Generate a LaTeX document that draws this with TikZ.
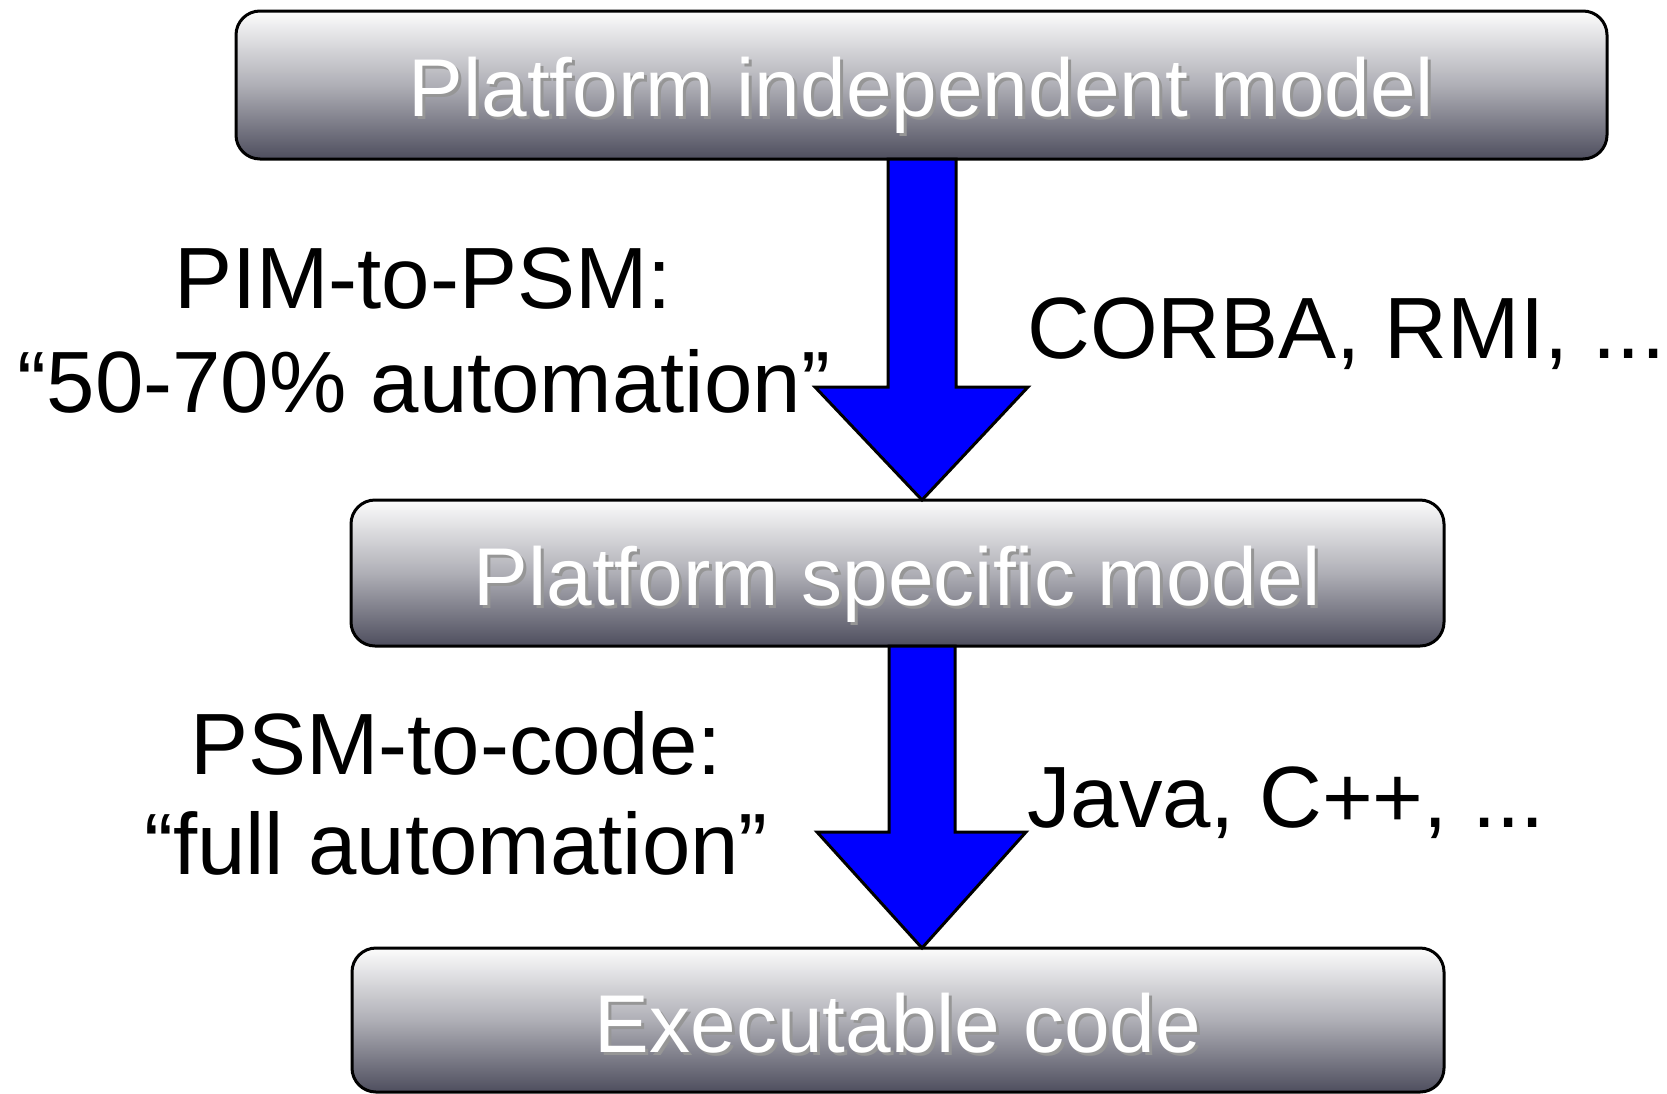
\documentclass[tikz,border=0pt]{standalone}
\usepackage{fontspec}
\setmainfont{Liberation Sans}
\usetikzlibrary{calc}
\definecolor{boxtop}{RGB}{252,252,252}
\definecolor{boxmid}{RGB}{175,175,182}
\definecolor{boxbot}{RGB}{78,78,94}
\definecolor{labelshadow}{RGB}{150,150,150}
\definecolor{arrowblue}{RGB}{0,0,255}
% white label with a soft grey drop shadow
\newcommand\shadowedlabel[1]{\makebox[0pt][l]{\hspace*{3pt}\raisebox{-3pt}{\color{labelshadow}#1}}{\color{white}#1}}
\tikzset{
  modelbox/.style={draw=black, line width=3pt, rounded corners=24pt,
    top color=boxtop, bottom color=boxbot, middle color=boxmid,
    inner sep=0pt, outer sep=0pt},
  boxlabel/.style={font=\fontsize{82}{90}\selectfont, inner sep=0pt, anchor=base},
  note/.style={font=\fontsize{87}{100}\selectfont, inner sep=0pt, anchor=base},
  bigarrow/.style={draw=black, line width=3pt, fill=arrowblue, line join=miter},
}
\begin{document}
\begin{tikzpicture}[x=1pt,y=-1pt]
\useasboundingbox (0,0) rectangle (1667,1093);

% model boxes
\node[modelbox, minimum width=1371pt, minimum height=148pt] (pim) at (921.5,85) {};
\node[modelbox, minimum width=1093pt, minimum height=146pt] (psm) at (897.5,573) {};
\node[modelbox, minimum width=1092pt, minimum height=144pt] (exe) at (898,1020) {};

\node[boxlabel] (pimtext) at ($(pim.center)+(0,31)$) {\shadowedlabel{Platform independent model}};
\node[boxlabel] (psmtext) at ($(psm.center)+(0,32)$) {\shadowedlabel{Platform specific model}};
\node[boxlabel] (exetext) at ($(exe.center)+(0,32)$) {\shadowedlabel{Executable code}};

% transformation arrows
\coordinate (a1top) at (922,0 |- pim.south);
\coordinate (a1tip) at (a1top |- psm.north);
\draw[bigarrow] ($(a1top)+(-34,0)$) -- ($(a1top)+(34,0)$) -- (956,387) -- (1028,387)
  -- (a1tip) -- (815,387) -- (888,387) -- cycle;

\coordinate (a2top) at (922,0 |- psm.south);
\coordinate (a2tip) at (a2top |- exe.north);
\draw[bigarrow] ($(a2top)+(-33,0)$) -- ($(a2top)+(33,0)$) -- (955,832) -- (1026,832)
  -- (a2tip) -- (817,832) -- (889,832) -- cycle;

% annotations
\node[note] (pim2psm) at (423,308) {PIM-to-PSM:};
\node[note] (pim2psmauto) at (424,412) {“50-70\% automation”};
\node[note, anchor=base west] (corba) at (1027,358) {CORBA, RMI, ...};

\node[note] (psm2code) at (456,774) {PSM-to-code:};
\node[note] (psm2codeauto) at (456,874) {“full automation”};
\node[note, anchor=base west] (java) at (1027,827) {Java, C++, ...};
\end{tikzpicture}
\end{document}
